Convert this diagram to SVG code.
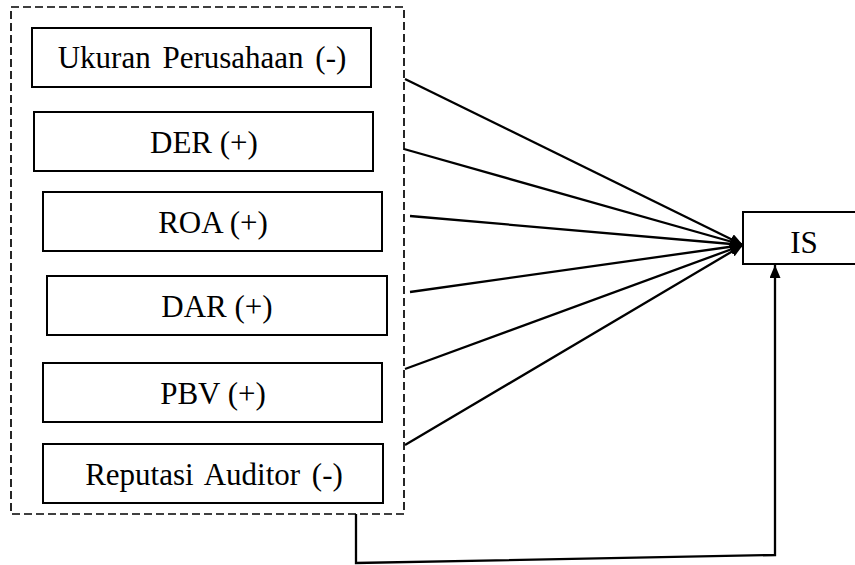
<svg xmlns="http://www.w3.org/2000/svg" width="855" height="565" viewBox="0 0 855 565">
<style>
  .box { fill: #ffffff; stroke: #000000; stroke-width: 2; }
  .lbl { font-family: "Liberation Serif", "Times New Roman", serif; font-size: 31px; fill: #000000; text-anchor: middle; }
  .wide { word-spacing: 4px; }
  .con { fill: none; stroke: #000000; stroke-width: 2.3; }
  .dash { fill: none; stroke: #000000; stroke-width: 1.7; stroke-dasharray: 8 4; }
</style>
<defs>
  <marker id="arr" viewBox="0 0 13 11" refX="13" refY="5.5" markerWidth="13" markerHeight="11" markerUnits="userSpaceOnUse" orient="auto">
    <path d="M0,0 L13,5.5 L0,11 Z" fill="#000000"/>
  </marker>
</defs>
<rect x="0" y="0" width="855" height="565" fill="#ffffff"/>
<g id="group-box">
  <rect class="dash" x="11" y="7" width="393" height="507"/>
</g>
<g id="node-ukuran">
  <rect class="box" x="32" y="28" width="339" height="59"/>
  <text class="lbl wide" x="202" y="68">Ukuran Perusahaan (-)</text>
</g>
<g id="node-der">
  <rect class="box" x="34" y="112" width="339" height="59"/>
  <text class="lbl" x="204" y="153">DER (+)</text>
</g>
<g id="node-roa">
  <rect class="box" x="43" y="192" width="339" height="59"/>
  <text class="lbl" x="213" y="233">ROA (+)</text>
</g>
<g id="node-dar">
  <rect class="box" x="47" y="276" width="340" height="59"/>
  <text class="lbl" x="217" y="317">DAR (+)</text>
</g>
<g id="node-pbv">
  <rect class="box" x="43" y="363" width="339" height="59"/>
  <text class="lbl" x="213" y="404">PBV (+)</text>
</g>
<g id="node-reputasi">
  <rect class="box" x="43" y="444" width="340" height="59"/>
  <text class="lbl wide" x="214" y="485">Reputasi Auditor (-)</text>
</g>
<g id="node-is">
  <rect class="box" x="743" y="212" width="120" height="52"/>
  <text class="lbl" x="804" y="253">IS</text>
</g>
<g id="connectors">
  <line class="con" x1="405" y1="79" x2="743" y2="245" marker-end="url(#arr)"/>
  <line class="con" x1="404" y1="149" x2="743" y2="245" marker-end="url(#arr)"/>
  <line class="con" x1="410" y1="216" x2="743" y2="245" marker-end="url(#arr)"/>
  <line class="con" x1="410" y1="292" x2="743" y2="245" marker-end="url(#arr)"/>
  <line class="con" x1="405" y1="369" x2="743" y2="245" marker-end="url(#arr)"/>
  <line class="con" x1="405" y1="445" x2="743" y2="245" marker-end="url(#arr)"/>
  <polyline class="con" points="356,514 356,563 775,555 775,265" marker-end="url(#arr)"/>
</g>
</svg>
